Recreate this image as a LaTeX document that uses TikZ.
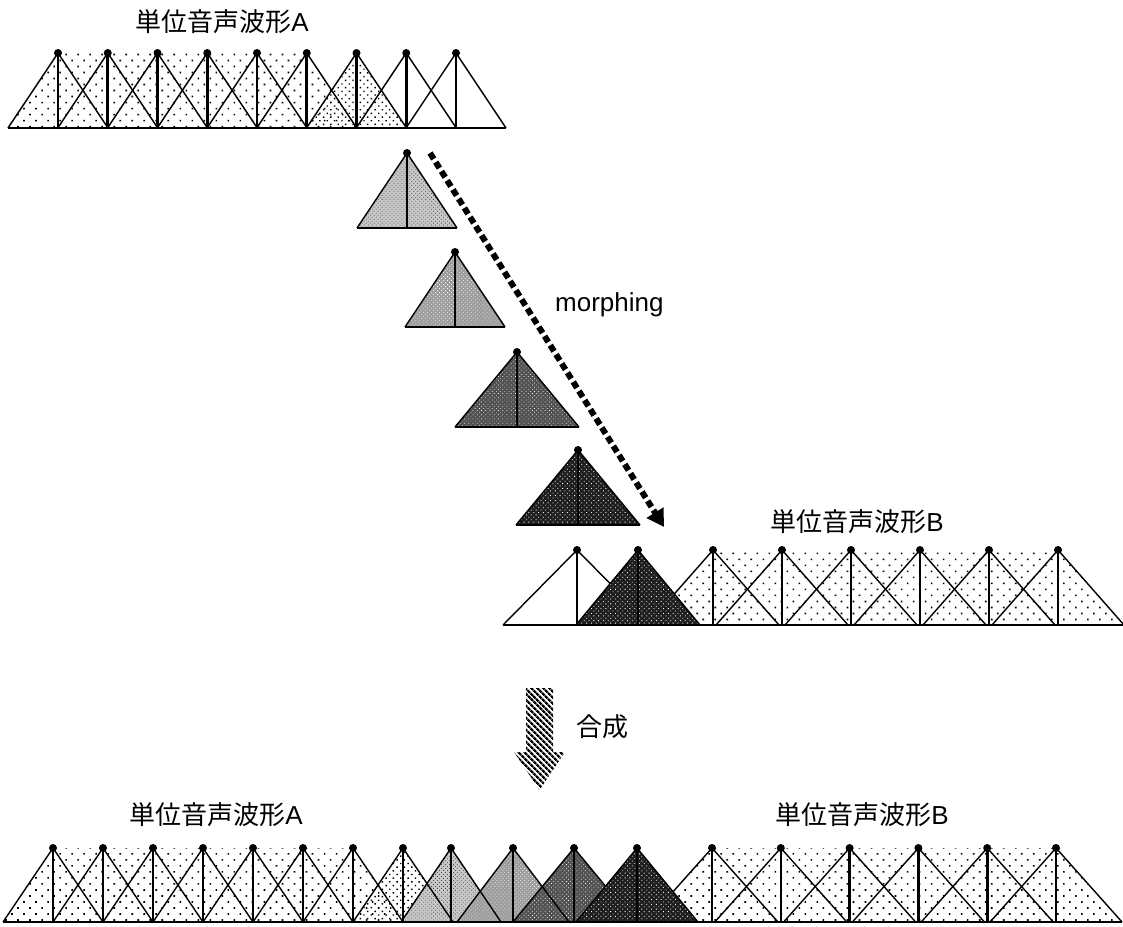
\documentclass[tikz,border=0pt]{standalone}
\usepackage{fontspec}
\setmainfont{Liberation Sans}
\newfontfamily\jpf{Noto Sans CJK JP}
\usetikzlibrary{patterns.meta,arrows.meta}

\newcommand\triL[4]{%
  \draw[slope] ({#1-#3},{#2+#4}) -- (#1,#2) -- ({#1+#3},{#2+#4});
  \draw[vbar] (#1,#2) -- (#1,{#2+#4});
  \fill (#1,#2) circle[radius=4pt];
}
\newcommand\triF[5]{%
  \path[#1] ({#2-#4},{#3+#5}) -- (#2,#3) -- ({#2+#4},{#3+#5}) -- cycle;
}

\tikzset{
  slope/.style={line width=1.4pt, line join=miter},
  vbar/.style={line width=2.6pt},
  baseln/.style={line width=1.6pt},
  sparse/.style={pattern={Dots[distance=8.5pt,radius=1.15pt,angle=45]}},
  densedots/.style={pattern={Dots[distance=5.2pt,radius=1pt,angle=45]}},
  gA/.style={fill=black!22, postaction={pattern={Dots[distance=2.8pt,radius=0.55pt,angle=45]}, pattern color=black!70}},
  gB/.style={fill=black!38, postaction={pattern={Dots[distance=2.8pt,radius=0.5pt,angle=45]}, pattern color=white}},
  gC/.style={fill=black!68, postaction={pattern={Dots[distance=3pt,radius=0.5pt,angle=45]}, pattern color=white}},
  gD/.style={fill=black!88, postaction={pattern={Dots[distance=3.4pt,radius=0.6pt,angle=45]}, pattern color=white}},
  lab/.style={inner sep=0pt, font=\fontsize{26}{30}\selectfont},
}

\begin{document}
\begin{tikzpicture}[x=1pt,y=-1pt]
\useasboundingbox (0,0) rectangle (1123,926);

% ---------- top row: waveform A ----------
\node[lab] (labA1) at (222,22) {{\jpf 単位音声波形}A};
\path[sparse] (8,128) -- (58,53) -- (307,53) -- (357,128) -- cycle;
\triF{densedots}{357}{53}{50}{75}
\foreach \k in {0,...,8}{
  \pgfmathsetmacro\xx{58+49.75*\k}
  \triL{\xx}{53}{50}{75}
}
\draw[baseln] (8,128) -- (506,128);

% ---------- morphing column ----------
\triF{gA}{407}{153}{50}{75}
\triL{407}{153}{50}{75}
\draw[baseln] (357,228) -- (457,228);
\triF{gB}{455}{252}{50}{75}
\triL{455}{252}{50}{75}
\draw[baseln] (405,327) -- (505,327);
\triF{gC}{517}{352}{62}{75}
\triL{517}{352}{62}{75}
\draw[baseln] (455,427) -- (579,427);
\triF{gD}{578}{450}{62}{75}
\triL{578}{450}{62}{75}
\draw[baseln] (516,525) -- (640,525);

\coordinate (ms) at (430,153);
\coordinate (me) at (664,527);
\draw[line width=6pt, dash pattern=on 7pt off 3.8pt,
      -{Triangle[length=17pt,width=19pt]}] (ms) -- (me);
\node[inner sep=0pt, anchor=west, font=\fontsize{26}{30}\selectfont] (morph) at (555,305) {morphing};

% ---------- middle row: waveform B ----------
\node[lab] (labB1) at (857,522) {{\jpf 単位音声波形}B};
\path[sparse] (647,625) -- (713,550) -- (1058,550) -- (1124,625) -- cycle;
\triL{577}{550}{74}{75}
\foreach \k in {0,...,5}{
  \pgfmathsetmacro\xx{713+69*\k}
  \triL{\xx}{550}{66}{75}
}
\triF{gD}{638}{550}{62}{75}
\triL{638}{550}{62}{75}
\draw[baseln] (503,625) -- (1123,625);

% ---------- synthesis arrow ----------
\path[pattern={Lines[angle=-45,distance=4pt,line width=2.5pt]}]
  (526,688) -- (553,688) -- (553,752) -- (565,752) -- (539.5,790) -- (514,752) -- (526,752) -- cycle;
\node[lab] (syn) at (602,727) {\jpf 合成};

% ---------- bottom row: result ----------
\node[lab] (labA2) at (216,815) {{\jpf 単位音声波形}A};
\node[lab] (labB2) at (862,815) {{\jpf 単位音声波形}B};
\path[sparse] (3,922) -- (53,848) -- (353,848) -- (403,922) -- cycle;
\triF{densedots}{403}{848}{50}{74}
\triF{gA}{451}{848}{50}{74}
\triF{gB}{513}{848}{56}{74}
\triF{gC}{574}{848}{61}{74}
\path[sparse] (646,922) -- (712,848) -- (1056,848) -- (1122,922) -- cycle;
\foreach \k in {0,...,7}{
  \pgfmathsetmacro\xx{53+50*\k}
  \triL{\xx}{848}{50}{74}
}
\triL{451}{848}{50}{74}
\triL{513}{848}{56}{74}
\triL{574}{848}{61}{74}
\foreach \k in {0,...,5}{
  \pgfmathsetmacro\xx{712+68.8*\k}
  \triL{\xx}{848}{66}{74}
}
\triF{gD}{637}{848}{61}{74}
\triL{637}{848}{61}{74}
\draw[baseln] (3,922) -- (1122,922);
\end{tikzpicture}
\end{document}
